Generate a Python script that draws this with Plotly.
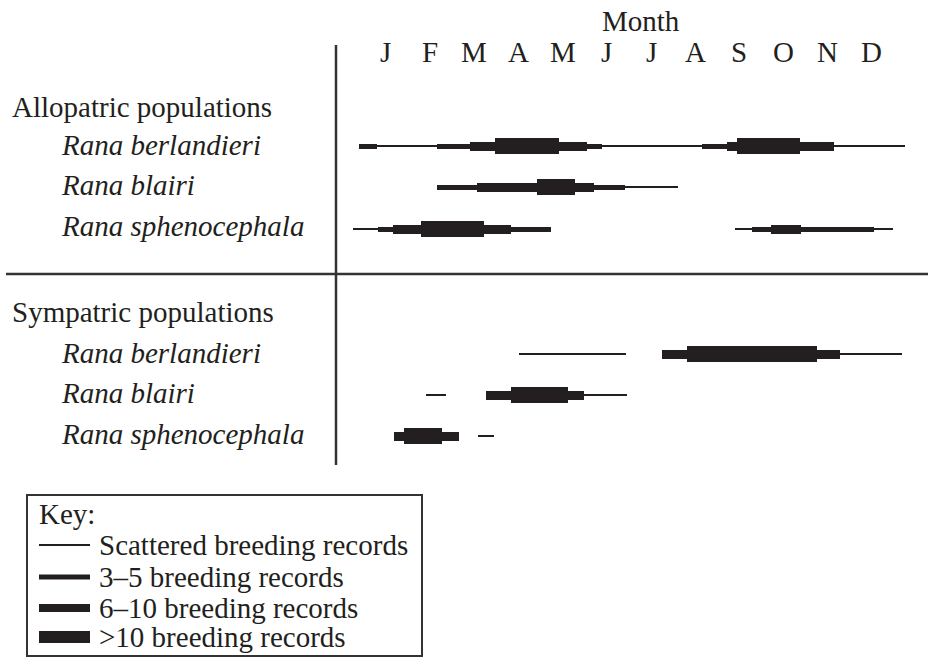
import plotly.graph_objects as go

# ---------------- data (months: 0 = 1 Jan, 12 = 31 Dec) ----------------
# level: 0 = scattered, 1 = 3-5, 2 = 6-10, 3 = >10 breeding records
month_labels = ["J", "F", "M", "A", "M", "J", "J", "A", "S", "O", "N", "D"]
species = ["Rana berlandieri", "Rana blairi", "Rana sphenocephala"]
group_labels = ["Allopatric populations", "Sympatric populations"]
key_labels = ["Scattered breeding records", "3\u20135 breeding records",
              "6\u201310 breeding records", ">10 breeding records"]

allo_berlandieri_start = [-0.11, 0.30, 1.65, 2.40, 2.97, 4.42, 5.05, 5.39, 7.66, 8.22, 8.45, 9.87, 10.64]
allo_berlandieri_end   = [0.30, 1.65, 2.40, 2.97, 4.42, 5.05, 5.39, 7.66, 8.22, 8.45, 9.87, 10.64, 12.24]
allo_berlandieri_level = [1, 0, 1, 2, 3, 2, 1, 0, 1, 2, 3, 2, 0]

allo_blairi_start = [1.65, 2.57, 3.92, 4.78, 5.21, 5.91]
allo_blairi_end   = [2.57, 3.92, 4.78, 5.21, 5.91, 7.11]
allo_blairi_level = [1, 2, 3, 2, 1, 0]

allo_spheno_start = [-0.25, 0.32, 0.66, 1.29, 2.72, 3.33, 8.40, 8.79, 9.21, 9.89, 11.54]
allo_spheno_end   = [0.32, 0.66, 1.29, 2.72, 3.33, 4.24, 8.79, 9.21, 9.89, 11.54, 11.97]
allo_spheno_level = [0, 1, 2, 3, 2, 1, 0, 1, 2, 1, 0]

sym_berlandieri_start = [3.52, 6.75, 7.31, 10.26, 10.77]
sym_berlandieri_end   = [5.93, 7.31, 10.26, 10.77, 12.18]
sym_berlandieri_level = [0, 2, 3, 2, 0]

sym_blairi_start = [1.41, 2.76, 3.33, 4.62, 4.98]
sym_blairi_end   = [1.86, 3.33, 4.62, 4.98, 5.96]
sym_blairi_level = [0, 2, 3, 2, 0]

sym_spheno_start = [0.68, 0.91, 1.77, 2.58]
sym_spheno_end   = [0.91, 1.77, 2.15, 2.94]
sym_spheno_level = [2, 3, 2, 0]

# ---------------- layout / style ----------------
W, H = 928, 660
PX0, PX_PER_MONTH = 363.9, 44.18           # pixel of 1 Jan, pixels per month
THICK = [2, 5, 9, 16]                      # bar thickness per level (px)
KEY_THICK = [2, 5, 8, 12]
INK = "#231f20"
FONT = "Liberation Serif"
FS = 29


def paper_x(v):
    return v / W


row_y = [146, 187, 229, 354, 395, 436]
rows = [
    (allo_berlandieri_start, allo_berlandieri_end, allo_berlandieri_level),
    (allo_blairi_start, allo_blairi_end, allo_blairi_level),
    (allo_spheno_start, allo_spheno_end, allo_spheno_level),
    (sym_berlandieri_start, sym_berlandieri_end, sym_berlandieri_level),
    (sym_blairi_start, sym_blairi_end, sym_blairi_level),
    (sym_spheno_start, sym_spheno_end, sym_spheno_level),
]

ys, bases, lens, widths = [], [], [], []
for ry, (s, e, lv) in zip(row_y, rows):
    for a, b, l in zip(s, e, lv):
        ys.append(ry)
        bases.append(a)
        lens.append(b - a)
        widths.append(THICK[l])

fig = go.Figure()
fig.add_trace(go.Bar(
    orientation="h", y=ys, x=lens, base=bases, width=widths,
    marker=dict(color=INK, line=dict(width=0)),
    hoverinfo="skip", showlegend=False,
))

x_lo = (0 - PX0) / PX_PER_MONTH
x_hi = (W - PX0) / PX_PER_MONTH

ann = []
ann.append(dict(x=(641 - PX0) / PX_PER_MONTH, y=21, xref="x", yref="y", text="Month",
                showarrow=False, xanchor="center", yanchor="middle",
                font=dict(family=FONT, size=FS, color=INK)))
for i, m in enumerate(month_labels):
    ann.append(dict(x=i + 0.5, y=52, xref="x", yref="y", text=m, showarrow=False,
                    xanchor="center", yanchor="middle",
                    font=dict(family=FONT, size=FS, color=INK)))

group_y = [107, 312]
species_y = [[145, 185, 226], [353, 393, 434]]
for g, gy in enumerate(group_y):
    ann.append(dict(x=paper_x(10), y=gy, xref="paper", yref="y", text=group_labels[g],
                    showarrow=False, xanchor="left", yanchor="middle",
                    font=dict(family=FONT, size=FS, color=INK)))
    for k, sp in enumerate(species):
        ann.append(dict(x=paper_x(59), y=species_y[g][k], xref="paper", yref="y",
                        text="<i>" + sp + "</i>", showarrow=False,
                        xanchor="left", yanchor="middle",
                        font=dict(family=FONT, size=FS, color=INK)))

# key
key_line_y = [545, 577, 608, 637]
ann.append(dict(x=paper_x(37), y=514, xref="paper", yref="y", text="Key:", showarrow=False,
                xanchor="left", yanchor="middle",
                font=dict(family=FONT, size=FS, color=INK)))
shapes = []
for k, lab in enumerate(key_labels):
    ann.append(dict(x=paper_x(97), y=key_line_y[k], xref="paper", yref="y", text=lab,
                    showarrow=False, xanchor="left", yanchor="middle",
                    font=dict(family=FONT, size=FS, color=INK)))
    t = KEY_THICK[k]
    shapes.append(dict(type="rect", xref="paper", yref="y", x0=paper_x(39), x1=paper_x(90),
                       y0=key_line_y[k] - t / 2, y1=key_line_y[k] + t / 2,
                       fillcolor=INK, line=dict(width=0)))
shapes.append(dict(type="rect", xref="paper", yref="y", x0=paper_x(27), x1=paper_x(422),
                   y0=495, y1=656, line=dict(color="#333", width=2),
                   fillcolor="rgba(0,0,0,0)"))

# frame lines
shapes.append(dict(type="line", xref="paper", yref="y", x0=paper_x(336), x1=paper_x(336),
                   y0=45, y1=465, line=dict(color="#333", width=2.5)))
shapes.append(dict(type="line", xref="paper", yref="y", x0=paper_x(6), x1=1,
                   y0=274, y1=274, line=dict(color="#333", width=2.5)))

fig.update_layout(
    width=W, height=H, margin=dict(l=0, r=0, t=0, b=0),
    paper_bgcolor="white", plot_bgcolor="white",
    barmode="overlay", bargap=0,
    xaxis=dict(range=[x_lo, x_hi], visible=False, fixedrange=True),
    yaxis=dict(range=[H, 0], visible=False, fixedrange=True),
    annotations=ann, shapes=shapes,
)

fig.write_html("out.html", config={"displayModeBar": False, "staticPlot": True},
               post_script="document.body.style.margin='0px';")
